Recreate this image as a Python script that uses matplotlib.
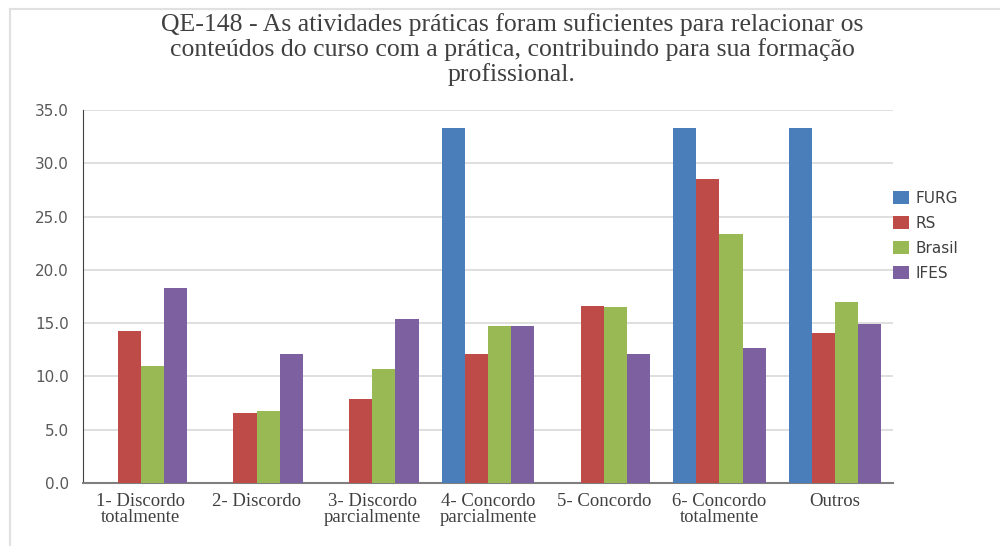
import numpy as np
import matplotlib
matplotlib.use("Agg")
import matplotlib.pyplot as plt
from matplotlib.lines import Line2D

title = ("QE-148 - As atividades práticas foram suficientes para relacionar os\n"
         "conteúdos do curso com a prática, contribuindo para sua formação\n"
         "profissional.")

categories = ["1- Discordo\ntotalmente", "2- Discordo", "3- Discordo\nparcialmente",
              "4- Concordo\nparcialmente", "5- Concordo", "6- Concordo\ntotalmente", "Outros"]
series_names = ["FURG", "RS", "Brasil", "IFES"]
furg = [0.0, 0.0, 0.0, 33.3, 0.0, 33.3, 33.3]
rs = [14.3, 6.6, 7.9, 12.1, 16.6, 28.5, 14.1]
brasil = [11.0, 6.8, 10.7, 14.7, 16.5, 23.4, 17.0]
ifes = [18.3, 12.1, 15.4, 14.7, 12.1, 12.7, 14.9]
colors = ["#4a7ebb", "#be4b48", "#98b954", "#7d60a0"]
yticks = [0, 5, 10, 15, 20, 25, 30, 35]

fig = plt.figure(figsize=(10, 5.46), dpi=100)
ax = fig.add_axes([0.083, 0.1154, 0.81, 0.683])

x = np.arange(len(categories))
w = 0.2
for i, (vals, name, c) in enumerate(zip([furg, rs, brasil, ifes], series_names, colors)):
    ax.bar(x + (i - 1.5) * w, vals, width=w, color=c, label=name, zorder=3)

ax.set_xlim(-0.5, len(categories) - 0.5)
ax.set_ylim(0, 35)
ax.set_yticks(yticks)
ax.set_yticklabels([f"{v:.1f}" for v in yticks], color="#595959", fontsize=11)
ax.yaxis.grid(True, color="#d9d9d9", linewidth=1.2, zorder=0)
ax.set_xticks(x)
ax.set_xticklabels(categories, family="Liberation Serif", fontsize=13.5, color="#404040",
                   linespacing=0.92)
ax.tick_params(axis="both", length=0)
ax.tick_params(axis="x", pad=7)
ax.tick_params(axis="y", pad=10)
for s in ["top", "right"]:
    ax.spines[s].set_visible(False)
ax.spines["left"].set_color("#404040")
ax.spines["bottom"].set_color("#7f7f7f")
ax.spines["bottom"].set_linewidth(1.5)

leg = ax.legend(loc="upper left", bbox_to_anchor=(0.993, 0.80), frameon=False,
                fontsize=11, handlelength=1.0, handleheight=1.0, labelspacing=0.65,
                handletextpad=0.45, borderaxespad=0)
for t in leg.get_texts():
    t.set_color("#404040")

fig.text(0.512, 0.976, title, ha="center", va="top", family="Liberation Serif",
         fontsize=18.5, color="#404040", linespacing=1.12)

# light frame lines at top and left
fig.add_artist(Line2D([0.01, 1.0], [0.984, 0.984], color="#e0e0e0", linewidth=1.5))
fig.add_artist(Line2D([0.01, 0.01], [0.0, 0.984], color="#e0e0e0", linewidth=1.5))

fig.savefig("out.png", dpi=100)
